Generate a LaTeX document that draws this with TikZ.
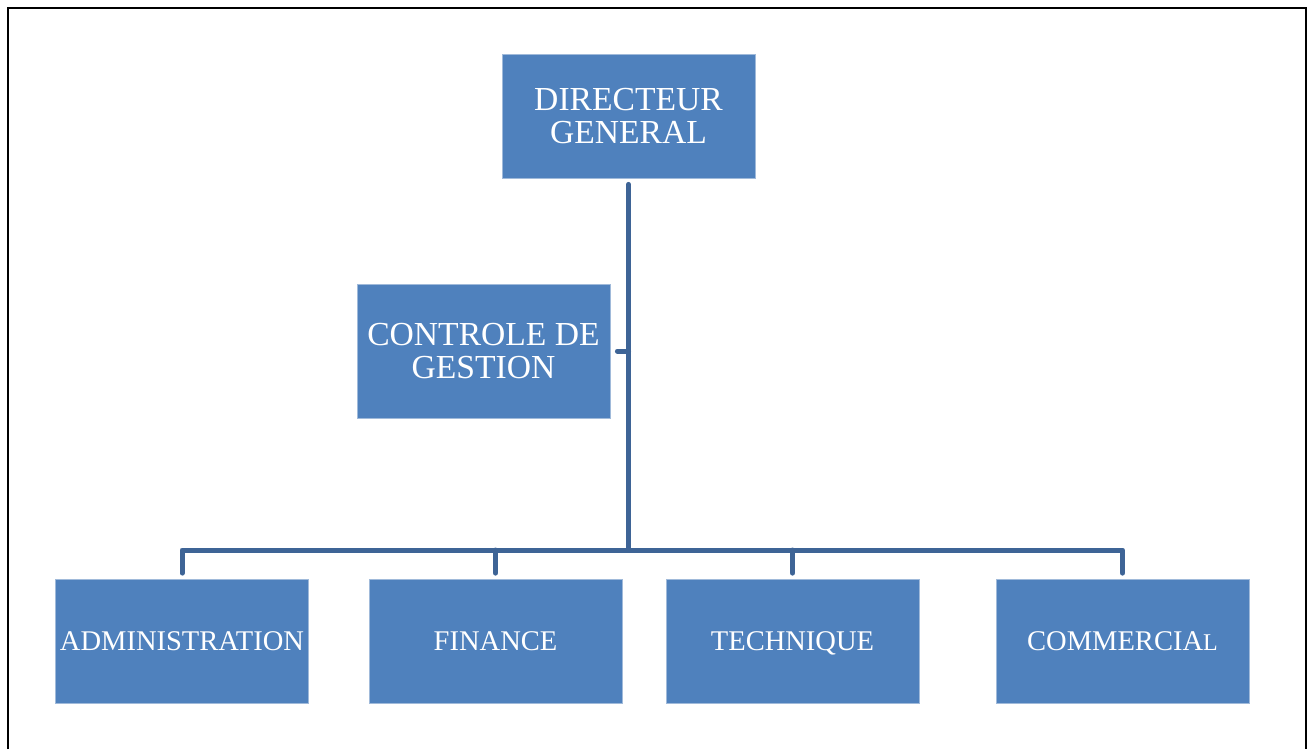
\documentclass[tikz,border=0pt]{standalone}
\usepackage{fontspec}
\setmainfont{Liberation Serif}
\definecolor{boxblue}{RGB}{79,129,189}
\definecolor{boxedge}{RGB}{160,186,218}
\definecolor{connblue}{RGB}{62,100,150}
\begin{document}
\begin{tikzpicture}[x=0.75pt,y=-0.75pt,
  unit/.style={rectangle, fill=boxblue, draw=boxedge, line width=0.6pt,
    minimum width=189.75pt, minimum height=93pt, inner sep=0pt,
    align=center, text=white, font=\fontsize{25.2pt}{25.4pt}\selectfont},
  lowunit/.style={unit, font=\fontsize{21.4pt}{22pt}\selectfont,
    text height=14.2pt, text depth=0pt},
  conn/.style={draw=connblue, line width=3.75pt, line cap=round, line join=round}]
\useasboundingbox (0,0) rectangle (1312,749);
\draw[line width=1.5pt] (8,749) -- (8,8) -- (1306,8) -- (1306,749);
\node[unit] (dg) at (628.5,116) {DIRECTEUR\\GENERAL};
\node[unit, minimum height=100.5pt] (cg) at (483.5,351) {CONTROLE DE\\GESTION};
\node[lowunit] (adm) at (182,641.5) {ADMINISTRATION};
\node[lowunit] (fin) at (495.5,641.5) {FINANCE};
\node[lowunit] (tech) at (792.5,641.5) {TECHNIQUE};
\node[lowunit] (com) at (1122.5,641.5) {COMMERCIA{\fontsize{18pt}{20pt}\selectfont L}};
\coordinate (bus) at (628.5,550);
\draw[conn] ([yshift=-4.5pt]dg.south) -- (bus);
\draw[conn] ([yshift=4.5pt]adm.north) -- (adm.north |- bus) -- (com.north |- bus) -- ([yshift=4.5pt]com.north);
\draw[conn] (fin.north |- bus) -- ([yshift=4.5pt]fin.north);
\draw[conn] (tech.north |- bus) -- ([yshift=4.5pt]tech.north);
\draw[conn] ([xshift=5.25pt]cg.east) -- (cg.east -| bus);
\end{tikzpicture}
\end{document}
